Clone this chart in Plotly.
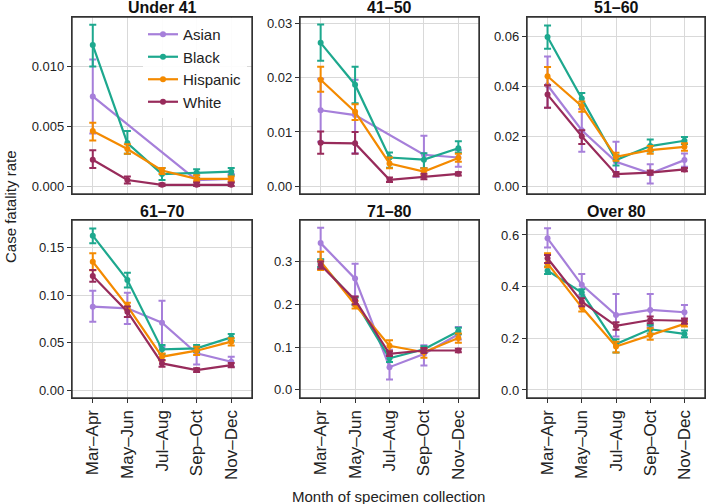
import plotly.graph_objects as go

W, H = 707, 504

months = ["Mar–Apr", "May–Jun", "Jul–Aug", "Sep–Oct", "Nov–Dec"]
panels = ["Under 41", "41–50", "51–60", "61–70", "71–80", "Over 80"]
groups = ["Asian", "Black", "Hispanic", "White"]
colors = {"Asian": "#A67FDA", "Black": "#1DA88E", "Hispanic": "#F48A00", "White": "#982B5B"}

# case fatality rate, lower and upper bounds, per panel and group
asian_u41 = [0.0075, None, None, 0.0005, 0.0006]
asian_u41_lo = [0.0044, None, None, 0.0001, 0.0003]
asian_u41_hi = [0.0106, None, None, 0.0009, 0.0010]
black_u41 = [0.0118, 0.0036, 0.0010, 0.0011, 0.0012]
black_u41_lo = [0.0100, 0.0027, 0.0005, 0.0007, 0.0009]
black_u41_hi = [0.0135, 0.0046, 0.0015, 0.0014, 0.0015]
hisp_u41 = [0.0046, 0.0031, 0.0013, 0.0006, 0.0006]
hisp_u41_lo = [0.0038, 0.0027, 0.0010, 0.0004, 0.0004]
hisp_u41_hi = [0.0053, 0.0035, 0.0015, 0.0009, 0.0008]
white_u41 = [0.0022, 0.0005, 0.0001, 0.0001, 0.0001]
white_u41_lo = [0.0015, 0.0002, 0.0000, 0.0000, 0.0000]
white_u41_hi = [0.0030, 0.0008, 0.0002, 0.0003, 0.0003]

asian_41 = [0.0140, 0.0131, None, 0.0058, 0.0053]
asian_41_lo = [0.0082, 0.0061, None, 0.0033, 0.0036]
asian_41_hi = [0.0198, 0.0196, None, 0.0093, 0.0067]
black_41 = [0.0264, 0.0187, 0.0053, 0.0049, 0.0070]
black_41_lo = [0.0231, 0.0153, 0.0034, 0.0033, 0.0062]
black_41_hi = [0.0298, 0.0220, 0.0062, 0.0061, 0.0083]
hisp_41 = [0.0196, 0.0137, 0.0042, 0.0027, 0.0052]
hisp_41_lo = [0.0174, 0.0122, 0.0033, 0.0020, 0.0045]
hisp_41_hi = [0.0220, 0.0151, 0.0053, 0.0033, 0.0060]
white_41 = [0.0080, 0.0079, 0.0012, 0.0018, 0.0023]
white_41_lo = [0.0060, 0.0060, 0.0008, 0.0013, 0.0020]
white_41_hi = [0.0101, 0.0100, 0.0016, 0.0023, 0.0026]

asian_51 = [0.0404, 0.0225, 0.0099, 0.0053, 0.0106]
asian_51_lo = [0.0315, 0.0139, 0.0040, 0.0013, 0.0080]
asian_51_hi = [0.0519, 0.0310, 0.0179, 0.0089, 0.0132]
black_51 = [0.0596, 0.0351, 0.0106, 0.0162, 0.0183]
black_51_lo = [0.0550, 0.0325, 0.0085, 0.0140, 0.0170]
black_51_hi = [0.0642, 0.0373, 0.0125, 0.0188, 0.0198]
hisp_51 = [0.0440, 0.0321, 0.0119, 0.0146, 0.0159]
hisp_51_lo = [0.0404, 0.0299, 0.0103, 0.0131, 0.0143]
hisp_51_hi = [0.0477, 0.0339, 0.0135, 0.0162, 0.0173]
white_51 = [0.0367, 0.0201, 0.0050, 0.0056, 0.0069]
white_51_lo = [0.0315, 0.0170, 0.0042, 0.0048, 0.0062]
white_51_hi = [0.0404, 0.0225, 0.0059, 0.0065, 0.0075]

asian_61 = [0.0877, 0.0860, 0.0709, 0.0386, 0.0298]
asian_61_lo = [0.0720, 0.0695, 0.0456, 0.0270, 0.0246]
asian_61_hi = [0.1046, 0.1025, 0.0940, 0.0456, 0.0350]
black_61 = [0.1625, 0.1158, 0.0428, 0.0439, 0.0554]
black_61_lo = [0.1544, 0.1080, 0.0380, 0.0400, 0.0520]
black_61_hi = [0.1700, 0.1235, 0.0475, 0.0475, 0.0590]
hisp_61 = [0.1351, 0.0884, 0.0351, 0.0414, 0.0509]
hisp_61_lo = [0.1260, 0.0845, 0.0310, 0.0370, 0.0470]
hisp_61_hi = [0.1439, 0.0920, 0.0385, 0.0455, 0.0545]
white_61 = [0.1200, 0.0825, 0.0280, 0.0210, 0.0263]
white_61_lo = [0.1140, 0.0770, 0.0245, 0.0190, 0.0240]
white_61_hi = [0.1263, 0.0880, 0.0315, 0.0230, 0.0285]

asian_71 = [0.343, 0.260, 0.053, 0.084, 0.130]
asian_71_lo = [0.304, 0.218, 0.024, 0.057, 0.118]
asian_71_hi = [0.379, 0.295, 0.094, 0.104, 0.147]
black_71 = [0.296, 0.207, 0.074, 0.095, 0.137]
black_71_lo = [0.287, 0.198, 0.065, 0.088, 0.130]
black_71_hi = [0.305, 0.216, 0.085, 0.102, 0.145]
hisp_71 = [0.300, 0.199, 0.103, 0.088, 0.121]
hisp_71_lo = [0.280, 0.190, 0.090, 0.075, 0.110]
hisp_71_hi = [0.323, 0.208, 0.116, 0.098, 0.132]
white_71 = [0.292, 0.210, 0.084, 0.092, 0.092]
white_71_lo = [0.283, 0.200, 0.079, 0.086, 0.088]
white_71_hi = [0.300, 0.218, 0.090, 0.098, 0.096]

asian_80 = [0.587, 0.407, 0.290, 0.310, 0.301]
asian_80_lo = [0.552, 0.368, 0.207, 0.245, 0.271]
asian_80_hi = [0.626, 0.449, 0.372, 0.372, 0.329]
black_80 = [0.462, 0.377, 0.178, 0.235, 0.217]
black_80_lo = [0.449, 0.359, 0.145, 0.219, 0.204]
black_80_hi = [0.478, 0.390, 0.196, 0.252, 0.230]
hisp_80 = [0.490, 0.320, 0.168, 0.213, 0.256]
hisp_80_lo = [0.475, 0.304, 0.145, 0.194, 0.246]
hisp_80_hi = [0.529, 0.336, 0.187, 0.239, 0.265]
white_80 = [0.510, 0.342, 0.248, 0.271, 0.268]
white_80_lo = [0.492, 0.324, 0.233, 0.258, 0.256]
white_80_hi = [0.523, 0.355, 0.262, 0.284, 0.277]

data = {
    "Under 41": {"Asian": (asian_u41, asian_u41_lo, asian_u41_hi),
                 "Black": (black_u41, black_u41_lo, black_u41_hi),
                 "Hispanic": (hisp_u41, hisp_u41_lo, hisp_u41_hi),
                 "White": (white_u41, white_u41_lo, white_u41_hi)},
    "41–50": {"Asian": (asian_41, asian_41_lo, asian_41_hi),
              "Black": (black_41, black_41_lo, black_41_hi),
              "Hispanic": (hisp_41, hisp_41_lo, hisp_41_hi),
              "White": (white_41, white_41_lo, white_41_hi)},
    "51–60": {"Asian": (asian_51, asian_51_lo, asian_51_hi),
              "Black": (black_51, black_51_lo, black_51_hi),
              "Hispanic": (hisp_51, hisp_51_lo, hisp_51_hi),
              "White": (white_51, white_51_lo, white_51_hi)},
    "61–70": {"Asian": (asian_61, asian_61_lo, asian_61_hi),
              "Black": (black_61, black_61_lo, black_61_hi),
              "Hispanic": (hisp_61, hisp_61_lo, hisp_61_hi),
              "White": (white_61, white_61_lo, white_61_hi)},
    "71–80": {"Asian": (asian_71, asian_71_lo, asian_71_hi),
              "Black": (black_71, black_71_lo, black_71_hi),
              "Hispanic": (hisp_71, hisp_71_lo, hisp_71_hi),
              "White": (white_71, white_71_lo, white_71_hi)},
    "Over 80": {"Asian": (asian_80, asian_80_lo, asian_80_hi),
                "Black": (black_80, black_80_lo, black_80_hi),
                "Hispanic": (hisp_80, hisp_80_lo, hisp_80_hi),
                "White": (white_80, white_80_lo, white_80_hi)},
}

# axis settings per panel
y_ranges = [[-0.00067, 0.01415], [-0.00142, 0.03116], [-0.0029, 0.0676],
            [-0.0084, 0.179], [-0.019, 0.397], [-0.031, 0.658]]
y_dticks = [0.005, 0.01, 0.02, 0.05, 0.1, 0.2]
y_formats = [".3f", ".2f", ".2f", ".2f", ".1f", ".1f"]

# panel boxes in pixels (left, right, top, bottom)
cols_px = [(72, 252), (300, 479), (527, 705)]
rows_px = [(17, 194), (220, 398)]

fig = go.Figure()
font = "Liberation Sans, Arial, sans-serif"
ink = "#222222"
frame = "#333333"

for i, name in enumerate(panels):
    r, c = divmod(i, 3)
    xa = "x" if i == 0 else f"x{i+1}"
    ya = "y" if i == 0 else f"y{i+1}"
    for g in groups:
        val, lo, hi = data[name][g]
        plus = [None if v is None else h - v for v, h in zip(val, hi)]
        minus = [None if v is None else v - l for v, l in zip(val, lo)]
        fig.add_trace(go.Scatter(
            x=months, y=val, xaxis=xa, yaxis=ya, name=g,
            mode="lines+markers", connectgaps=True,
            line=dict(color=colors[g], width=2.2),
            marker=dict(color=colors[g], size=6),
            error_y=dict(type="data", array=plus, arrayminus=minus,
                         color=colors[g], thickness=2, width=3.5),
            showlegend=(i == 0), legendgroup=g,
        ))
    l, rr = cols_px[c]
    t, b = rows_px[r]
    fig.update_layout({
        ("xaxis" if i == 0 else f"xaxis{i+1}"): dict(
            domain=[l / W, rr / W], anchor=ya,
            type="category", categoryorder="array", categoryarray=months,
            range=[-0.6, 4.6], tickangle=-90, showticklabels=(r == 1),
            ticks="outside" if r == 1 else "",
            tickfont=dict(size=17, color=ink, family=font)),
        ("yaxis" if i == 0 else f"yaxis{i+1}"): dict(
            domain=[1 - b / H, 1 - t / H], anchor=xa, ticks="outside",
            range=y_ranges[i], dtick=y_dticks[i], tick0=0, tickformat=y_formats[i],
            tickfont=dict(size=13, color=ink, family=font)),
    })
    # panel frame
    fig.add_shape(type="rect", xref=f"{xa} domain", yref=f"{ya} domain",
                  x0=0, x1=1, y0=0, y1=1, layer="above",
                  line=dict(color=frame, width=1.4), fillcolor="rgba(0,0,0,0)")
    fig.add_annotation(text=f"<b>{name}</b>", x=(l + rr) / 2 / W, y=1 - (t - 9) / H,
                       xref="paper", yref="paper", xanchor="center", yanchor="middle",
                       showarrow=False, font=dict(size=16, color="#111111", family=font))

fig.update_xaxes(showgrid=True, gridcolor="#D9D9D9", gridwidth=1.3,
                 showline=True, linecolor=frame, linewidth=1.4, mirror=True,
                 zeroline=False, ticklen=4, tickwidth=1.2, tickcolor=frame)
fig.update_yaxes(showgrid=True, gridcolor="#D9D9D9", gridwidth=1.3,
                 showline=True, linecolor=frame, linewidth=1.4, mirror=True,
                 zeroline=False, ticklen=4, tickwidth=1.2, tickcolor=frame)

fig.add_annotation(text="Case fatality rate", x=10 / W, y=1 - 207 / H, xref="paper", yref="paper",
                   xanchor="center", yanchor="middle", showarrow=False, textangle=-90,
                   font=dict(size=15, color=ink, family=font))
fig.add_annotation(text="Month of specimen collection", x=388 / W, y=1 - 496 / H, xref="paper",
                   yref="paper", xanchor="center", yanchor="middle", showarrow=False,
                   font=dict(size=15, color=ink, family=font))

fig.update_layout(
    width=W, height=H, autosize=False,
    margin=dict(l=0, r=0, t=0, b=0),
    paper_bgcolor="white", plot_bgcolor="white",
    font=dict(family=font),
    legend=dict(x=143 / W, y=1 - 18 / H, xanchor="left", yanchor="top",
                bgcolor="rgba(255,255,255,0.9)", font=dict(size=15, color=ink),
                tracegroupgap=0, itemwidth=30),
)

fig.write_html("out.html", config={"displayModeBar": False},
               post_script="document.body.style.margin='0px';")
